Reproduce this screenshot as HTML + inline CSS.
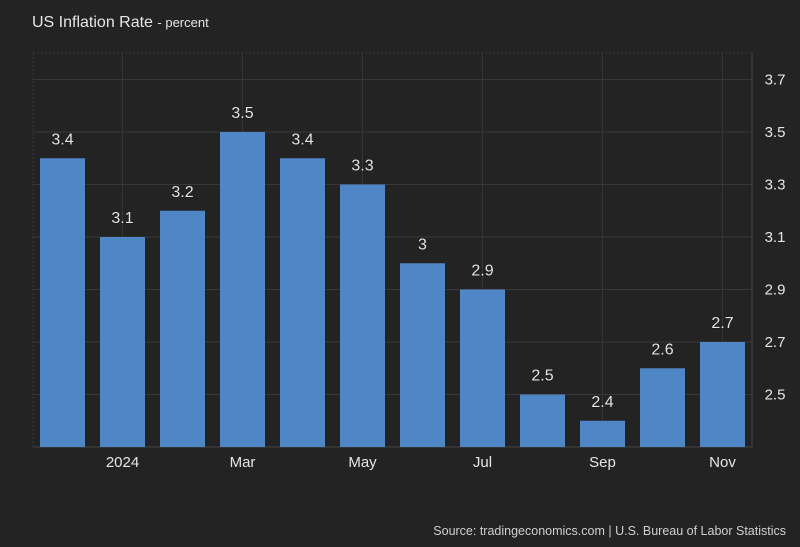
<!DOCTYPE html>
<html><head><meta charset="utf-8"><style>
html,body{margin:0;padding:0;background:#232323;}
svg{display:block;font-family:"Liberation Sans",sans-serif;}
</style></head><body>
<svg id="chart" width="800" height="547" viewBox="0 0 800 547">
<rect x="0" y="0" width="800" height="547" fill="#232323"/>
<text x="32" y="27" fill="#e6e6e6" font-size="16">US Inflation Rate <tspan font-size="13">- percent</tspan></text>
<g id="grid"></g>
<g id="bars"></g>
<g id="labels"></g>
<g id="yaxis"></g>
<g id="xaxis"></g>
<text x="786" y="535" fill="#d0d0d0" font-size="12.5" text-anchor="end">Source: tradingeconomics.com | U.S. Bureau of Labor Statistics</text>
</svg>
<script>
const categories = ["Dec","2024","Feb","Mar","Apr","May","Jun","Jul","Aug","Sep","Oct","Nov"];
const values = [3.4,3.1,3.2,3.5,3.4,3.3,3.0,2.9,2.5,2.4,2.6,2.7];
const valueLabels = ["3.4","3.1","3.2","3.5","3.4","3.3","3","2.9","2.5","2.4","2.6","2.7"];
const yTicks = [2.5,2.7,2.9,3.1,3.3,3.5,3.7];
const xTickLabels = ["2024","Mar","May","Jul","Sep","Nov"];

const NS="http://www.w3.org/2000/svg";
const plotL=33, plotR=752, plotT=53, plotB=447;
const yMin=2.3, pxPerUnit=262.5;
const y = v => plotB - (v - yMin)*pxPerUnit;
const step=60, x0=62.5, bw=45;
const x = i => x0 + i*step;
function mk(tag, attrs, parent){const e=document.createElementNS(NS,tag);for(const k in attrs)e.setAttribute(k,attrs[k]);document.getElementById(parent).appendChild(e);return e;}

// grid
let border = mk('rect',{x:plotL,y:plotT,width:plotR-plotL,height:plotB-plotT,fill:'none',stroke:'#3a3a3a','stroke-dasharray':'2,2'},'grid');


yTicks.forEach(t=>{
  const l=mk('line',{x1:plotL,x2:plotR,y1:y(t),y2:y(t),stroke:'#383838','stroke-width':1},'grid');
  
  
  const tx=mk('text',{x:775,y:y(t)+5,fill:'#e6e6e6','font-size':15,'text-anchor':'middle'},'yaxis');
  tx.textContent=t.toFixed(1);
  
  
});
categories.forEach((c,i)=>{
  if(xTickLabels.includes(c)){
    const l=mk('line',{x1:x(i),x2:x(i),y1:plotT,y2:plotB,stroke:'#353535','stroke-width':1},'grid');
    
    
    const tx=mk('text',{x:x(i),y:467,fill:'#e6e6e6','font-size':15,'text-anchor':'middle'},'xaxis');
    tx.textContent=c;
    
    
  }
});
const ax=mk('line',{x1:plotR,x2:plotR,y1:plotT,y2:plotB,stroke:'#444'},'grid');


const base=mk('line',{x1:plotL,x2:plotR,y1:plotB,y2:plotB,stroke:'#444'},'grid');



values.forEach((v,i)=>{
  const r=mk('rect',{x:x(i)-bw/2,y:y(v),width:bw,height:plotB-y(v),fill:'#4f86c6'},'bars');
  
  
  const t=mk('text',{x:x(i),y:y(v)-14,fill:'#e6e6e6','font-size':16,'text-anchor':'middle',stroke:'#111','stroke-width':0.6,'paint-order':'stroke'},'labels');
  t.textContent=valueLabels[i];
  
  
});
</script>
</body></html>
